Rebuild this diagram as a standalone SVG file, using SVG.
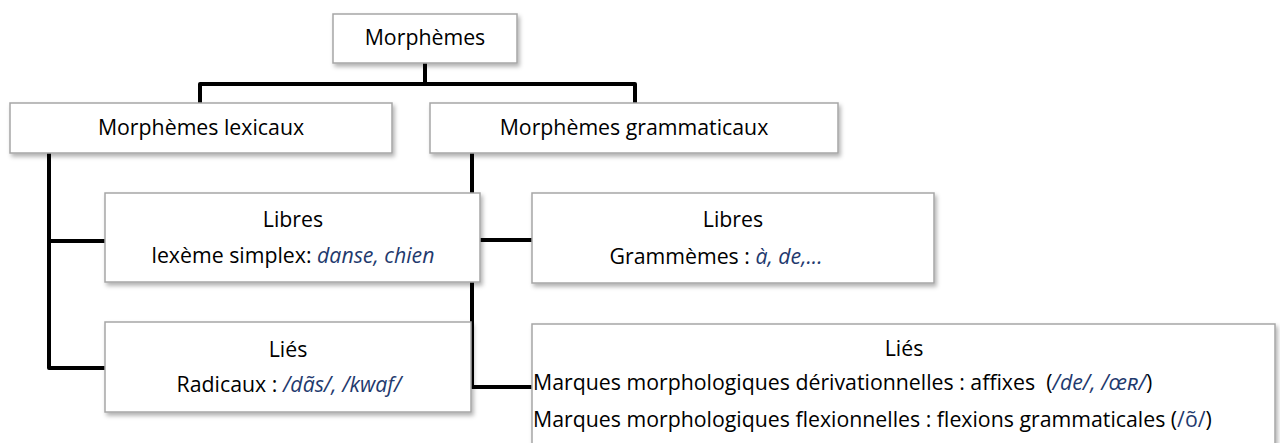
<svg xmlns="http://www.w3.org/2000/svg" width="1280" height="443" viewBox="0 0 1280 443">
<style>
.box{fill:#fff;stroke:#a6a6a6;stroke-width:1.5;filter:url(#sh)}
.t{font-family:"Open Sans","Noto Sans",sans-serif;font-size:21.3px;fill:#000}
.c{text-anchor:middle}
.b{fill:#1f3a6e;font-style:italic}
.bu{fill:#1f3a6e}
.con{fill:none;stroke:#000;stroke-width:4;stroke-linejoin:round}
</style>
<defs>
<filter id="sh" x="-5%" y="-10%" width="115%" height="130%">
<feDropShadow dx="2" dy="3" stdDeviation="2" flood-color="#000" flood-opacity="0.3"/>
</filter>
</defs>
<g id="connectors">
<path class="con" d="M425,63 V84"/>
<path class="con" d="M200,103 V84 H635 V103"/>
<path class="con" d="M49,153 V368 H105"/>
<path class="con" d="M49,241 H105"/>
<path class="con" d="M472,153 V387 H532"/>
<path class="con" d="M472,240 H532"/>
</g>
<g id="morphemes">
<rect class="box" x="333" y="14" width="184" height="49"/>
<text class="t c" x="425" y="45">Morphèmes</text>
</g>
<g id="lexicaux">
<rect class="box" x="10" y="103" width="382" height="50"/>
<text class="t c" x="201" y="135">Morphèmes lexicaux</text>
</g>
<g id="grammaticaux">
<rect class="box" x="430" y="103" width="408" height="50"/>
<text class="t c" x="634" y="135">Morphèmes grammaticaux</text>
</g>
<g id="libres-lex">
<rect class="box" x="105" y="193" width="375" height="89"/>
<text class="t c" x="293" y="227">Libres</text>
<text class="t c" x="293" y="263">lexème simplex: <tspan class="b">danse, chien</tspan></text>
</g>
<g id="libres-gram">
<rect class="box" x="532" y="193" width="402" height="90"/>
<text class="t c" x="733" y="227">Libres</text>
<text class="t c" x="716" y="264">Grammèmes : <tspan class="b">à, de,...</tspan></text>
</g>
<g id="lies-lex">
<rect class="box" x="105" y="322" width="366" height="90"/>
<text class="t c" x="288" y="357">Liés</text>
<text class="t c" x="289" y="392">Radicaux : <tspan class="b">/dãs/, /kwaf/</tspan></text>
</g>
<g id="lies-gram">
<rect class="box" x="532" y="324" width="743" height="130"/>
<text class="t c" x="904" y="356">Liés</text>
<text class="t" x="533" y="390" xml:space="preserve">Marques morphologiques dérivationnelles : affixes  (<tspan class="b">/de/, /œʀ/</tspan>)</text>
<text class="t" x="533" y="427">Marques morphologiques flexionnelles : flexions grammaticales (<tspan class="bu">/õ/</tspan>)</text>
</g>
</svg>
